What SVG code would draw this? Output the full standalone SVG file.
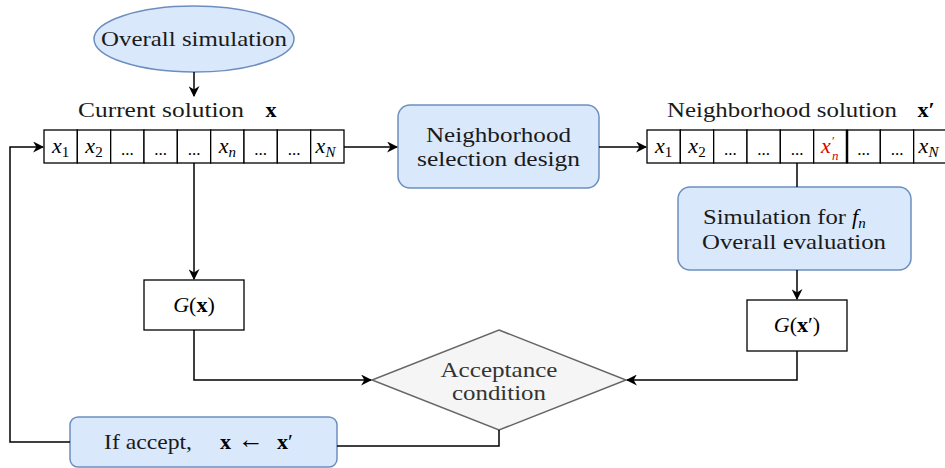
<svg xmlns="http://www.w3.org/2000/svg" width="945" height="468" viewBox="0 0 945 468">
<defs>
<marker id="arr" viewBox="0 0 10 10" refX="9" refY="5" markerWidth="11" markerHeight="11" markerUnits="userSpaceOnUse" orient="auto">
<path d="M0,0 L10,5 L0,10 L3,5 z" fill="#000"/>
</marker>
<style>
.t{font-family:"Liberation Serif","Times New Roman",serif;font-size:21px;fill:#1a1a1a;text-anchor:middle}
.m{font-family:"Liberation Serif","Times New Roman",serif;font-size:22px;fill:#000;text-anchor:middle}
.i{font-style:italic}
.b{font-weight:bold}
.sub{font-size:15px}
.cell{fill:#fff;stroke:#000;stroke-width:1.3}
.box{fill:#fff;stroke:#000;stroke-width:1.3}
.blue{fill:#dae8fc;stroke:#6c8ebf;stroke-width:1.5}
.edge{fill:none;stroke:#000;stroke-width:1.5}
.dots{font-family:"Liberation Serif",serif;font-size:17px;fill:#000;text-anchor:middle}
.red{font-family:"Liberation Serif",serif;fill:#e00000}
</style>
</defs>

<g id="overall-simulation">
<ellipse cx="194" cy="39" rx="100" ry="33" class="blue"/>
<text class="t" x="194" y="46" textLength="186" lengthAdjust="spacingAndGlyphs">Overall simulation</text>
</g>

<g id="current-solution">
<text class="t" x="161" y="117" textLength="166" lengthAdjust="spacingAndGlyphs">Current solution</text>
<text class="m b" x="271" y="117">x</text>
<rect class="cell" x="44" y="130" width="33.33" height="33"/>
<rect class="cell" x="77.33" y="130" width="33.33" height="33"/>
<rect class="cell" x="110.67" y="130" width="33.33" height="33"/>
<rect class="cell" x="144" y="130" width="33.33" height="33"/>
<rect class="cell" x="177.33" y="130" width="33.33" height="33"/>
<rect class="cell" x="210.67" y="130" width="33.33" height="33"/>
<rect class="cell" x="244" y="130" width="33.33" height="33"/>
<rect class="cell" x="277.33" y="130" width="33.33" height="33"/>
<rect class="cell" x="310.67" y="130" width="33.33" height="33"/>
<text class="m" x="60.7" y="153"><tspan class="i">x</tspan><tspan class="sub" dy="4">1</tspan></text>
<text class="m" x="94" y="153"><tspan class="i">x</tspan><tspan class="sub" dy="4">2</tspan></text>
<text class="dots" x="127.3" y="155">...</text>
<text class="dots" x="160.7" y="155">...</text>
<text class="dots" x="194" y="155">...</text>
<text class="m" x="227.3" y="153"><tspan class="i">x</tspan><tspan class="sub i" dy="4">n</tspan></text>
<text class="dots" x="260.7" y="155">...</text>
<text class="dots" x="294" y="155">...</text>
<text class="m" x="325.5" y="153"><tspan class="i">x</tspan><tspan class="sub i" dy="4">N</tspan></text>
</g>

<g id="neighborhood-selection">
<rect class="blue" x="398" y="105" width="201" height="83" rx="12"/>
<text class="t" x="498.5" y="142" textLength="145" lengthAdjust="spacingAndGlyphs">Neighborhood</text>
<text class="t" x="498.5" y="166" textLength="163" lengthAdjust="spacingAndGlyphs">selection design</text>
</g>

<g id="neighborhood-solution">
<text class="t" x="782" y="117" textLength="230" lengthAdjust="spacingAndGlyphs">Neighborhood solution</text>
<text class="m b" x="926" y="117">x′</text>
<rect class="cell" x="647" y="130" width="33.33" height="33"/>
<rect class="cell" x="680.33" y="130" width="33.33" height="33"/>
<rect class="cell" x="713.67" y="130" width="33.33" height="33"/>
<rect class="cell" x="747" y="130" width="33.33" height="33"/>
<rect class="cell" x="780.33" y="130" width="33.33" height="33"/>
<rect class="cell" x="813.67" y="130" width="33.33" height="33"/>
<rect class="cell" x="847" y="130" width="33.33" height="33"/>
<rect class="cell" x="880.33" y="130" width="33.33" height="33"/>
<rect class="cell" x="913.67" y="130" width="33.33" height="33"/>
<line x1="847" y1="130" x2="847" y2="163" stroke="#000" stroke-width="2.5"/>
<text class="m" x="663.7" y="153"><tspan class="i">x</tspan><tspan class="sub" dy="4">1</tspan></text>
<text class="m" x="697" y="153"><tspan class="i">x</tspan><tspan class="sub" dy="4">2</tspan></text>
<text class="dots" x="730.3" y="155">...</text>
<text class="dots" x="763.7" y="155">...</text>
<text class="dots" x="797" y="155">...</text>
<text class="red" x="821" y="153" font-size="22"><tspan font-style="italic">x</tspan><tspan x="832" y="145" font-size="13">′</tspan><tspan x="832" y="160" font-size="13" font-style="italic">n</tspan></text>
<text class="dots" x="863.7" y="155">...</text>
<text class="dots" x="897" y="155">...</text>
<text class="m" x="928.5" y="153"><tspan class="i">x</tspan><tspan class="sub i" dy="4">N</tspan></text>
</g>

<g id="simulation-fn">
<rect class="blue" x="678" y="187" width="233" height="83" rx="12"/>
<text class="t" x="703" y="224" style="text-anchor:start" textLength="143" lengthAdjust="spacingAndGlyphs">Simulation for</text>
<text class="m" x="852" y="224" style="text-anchor:start"><tspan class="i">f</tspan><tspan class="sub i" dy="4">n</tspan></text>
<text class="t" x="794" y="249" textLength="184" lengthAdjust="spacingAndGlyphs">Overall evaluation</text>
</g>

<g id="G-x">
<rect class="box" x="144" y="280" width="100" height="50"/>
<text class="m" x="194" y="312"><tspan class="i">G</tspan>(<tspan class="b">x</tspan>)</text>
</g>

<g id="G-xprime">
<rect class="box" x="747" y="300" width="100" height="51"/>
<text class="m" x="797" y="332"><tspan class="i">G</tspan>(<tspan class="b">x</tspan>′)</text>
</g>

<g id="acceptance">
<polygon points="499,330 626,380 499,430 372,380" fill="#f5f5f5" stroke="#666666" stroke-width="1.5"/>
<text class="t" x="499" y="377" style="fill:#333333" textLength="117" lengthAdjust="spacingAndGlyphs">Acceptance</text>
<text class="t" x="499" y="400" style="fill:#333333" textLength="94" lengthAdjust="spacingAndGlyphs">condition</text>
</g>

<g id="if-accept">
<rect class="blue" x="70" y="417" width="267" height="50" rx="8"/>
<text class="t" x="148" y="449" textLength="88" lengthAdjust="spacingAndGlyphs">If accept,</text>
<text class="m" x="220" y="449" style="text-anchor:start"><tspan class="b">x</tspan><tspan x="238" font-size="26" dy="-1">←</tspan><tspan x="277" dy="1" class="b">x</tspan>′</text>
</g>

<g id="connectors">
<path class="edge" d="M194,72 L194,96" marker-end="url(#arr)"/>
<path class="edge" d="M344,147 L397,147" marker-end="url(#arr)"/>
<path class="edge" d="M599,147 L646,147" marker-end="url(#arr)"/>
<path class="edge" d="M194,163 L194,279" marker-end="url(#arr)"/>
<path class="edge" d="M797,163 L797,187"/>
<path class="edge" d="M797,270 L797,299" marker-end="url(#arr)"/>
<path class="edge" d="M194,330 L194,380 L371,380" marker-end="url(#arr)"/>
<path class="edge" d="M797,351 L797,380 L627,380" marker-end="url(#arr)"/>
<path class="edge" d="M499,430 L499,446 L337,446"/>
<path class="edge" d="M70,442 L10,442 L10,147 L43,147" marker-end="url(#arr)"/>
</g>
</svg>
